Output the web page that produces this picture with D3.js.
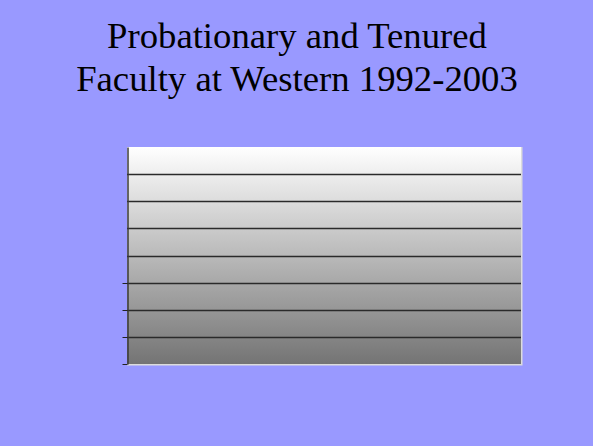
<!DOCTYPE html>
<html>
<head>
<meta charset="utf-8">
<script src="https://cdn.jsdelivr.net/npm/d3@7"></script>
<style>
  html, body { margin: 0; padding: 0; background: #9999ff; }
  svg { display: block; }
</style>
</head>
<body>
<script>
// chart data: the source chart has no visible series, only its frame
let titleLines = ['Probationary and Tenured', 'Faculty at Western 1992-2003']
let years = ['1992', '1993', '1994', '1995', '1996', '1997', '1998', '1999', '2000', '2001', '2002', '2003']
let yTicks = [0, 1, 2, 3, 4, 5, 6, 7, 8]
let tickedValues = [0, 1, 2, 3]   // only the lower ticks show a mark on the axis

let svg = d3.select('body').append('svg')
    .attr('width', 593)
    .attr('height', 446)

svg.append('rect')
    .attr('width', 593)
    .attr('height', 446)
    .attr('fill', '#9999ff')

// title
svg.append('g')
    .selectAll('text')
    .data(titleLines)
    .enter().append('text')
    .attr('x', 297)
    .attr('y', (d, i) => 48 + i * 43)
    .attr('text-anchor', 'middle')
    .attr('font-family', '"Liberation Serif", "Times New Roman", serif')
    .attr('font-size', 36.7)
    .attr('fill', '#000')
    .text(d => d)

// scales
let xScale = d3.scaleBand()
    .domain(years)
    .range([127, 521])

let yScale = d3.scaleLinear()
    .domain([0, 8])
    .range([364, 147])

// plot area gradient
let grad = svg.append('defs').append('linearGradient')
    .attr('id', 'plotGrad')
    .attr('x1', 0).attr('y1', 0)
    .attr('x2', 0).attr('y2', 1)
grad.append('stop').attr('offset', '0%').attr('stop-color', '#ffffff')
grad.append('stop').attr('offset', '100%').attr('stop-color', '#747474')

// light edge (right / bottom)
svg.append('rect')
    .attr('x', xScale.range()[0])
    .attr('y', yScale(8))
    .attr('width', xScale.range()[1] - xScale.range()[0] + 1.5)
    .attr('height', yScale(0) - yScale(8) + 1.5)
    .attr('fill', '#dcdcdc')

svg.append('rect')
    .attr('x', xScale.range()[0])
    .attr('y', yScale(8))
    .attr('width', xScale.range()[1] - xScale.range()[0])
    .attr('height', yScale(0) - yScale(8))
    .attr('fill', 'url(#plotGrad)')

// grid lines
svg.append('g')
    .selectAll('line')
    .data(yTicks.filter(d => d > 0 && d < 8))
    .enter().append('line')
    .attr('x1', xScale.range()[0])
    .attr('x2', xScale.range()[1])
    .attr('y1', d => Math.round(yScale(d)) + 0.5)
    .attr('y2', d => Math.round(yScale(d)) + 0.5)
    .attr('stroke', '#2a2a2a')
    .attr('stroke-width', 1.3)

// y axis line and tick marks
let yAxis = d3.axisLeft(yScale)
    .tickValues(tickedValues)
    .tickSize(5)
    .tickSizeOuter(0)
    .tickFormat('')

let axisG = svg.append('g')
    .attr('transform', 'translate(127.5,0)')
    .call(yAxis)
axisG.select('.domain')
    .attr('stroke', '#3a3a3a')
    .attr('stroke-width', 1.5)
axisG.selectAll('.tick line')
    .attr('stroke', '#222')
axisG.selectAll('.tick')
    .attr('transform', d => 'translate(0,' + (Math.round(yScale(d)) + 0.5) + ')')
</script>
</body>
</html>
